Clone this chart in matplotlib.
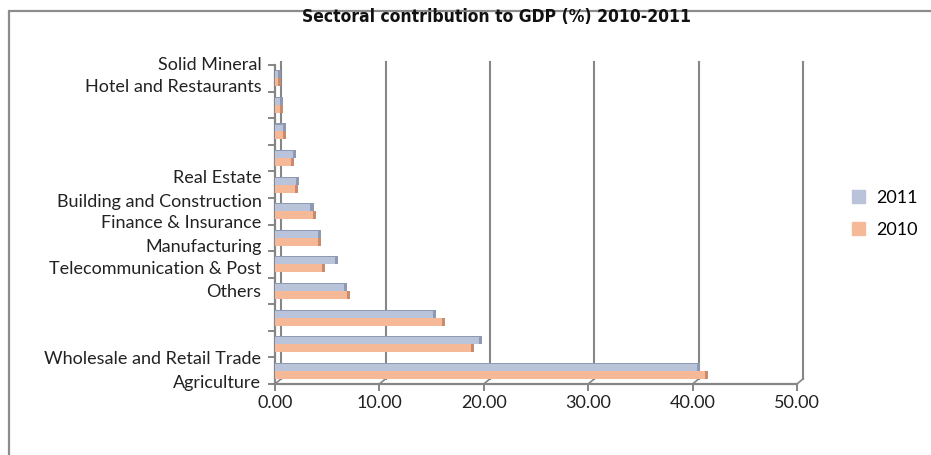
import numpy as np
import matplotlib.pyplot as plt
from matplotlib.patches import Rectangle, Patch

# Sector groups, bottom to top (Agriculture at the bottom)
groups = np.arange(12)
v2011 = [40.4, 19.5, 15.1, 6.6, 5.7, 4.1, 3.4, 2.0, 1.7, 0.8, 0.5, 0.3]
v2010 = [41.2, 18.8, 16.0, 6.9, 4.5, 4.1, 3.6, 1.9, 1.5, 0.8, 0.5, 0.3]

# Category labels as the chart shows them (some slots have no label)
labels = ["Agriculture", "Wholesale and Retail Trade", "Others",
          "Telecommunication & Post", "Manufacturing", "Finance & Insurance",
          "Building and Construction", "Real Estate", "Hotel and Restaurants",
          "Solid Mineral"]
label_pos = [-0.46, 0.44, 2.96, 3.83, 4.65, 5.56, 6.35, 7.25, 10.67, 11.5]

xticks = [0, 10, 20, 30, 40, 50]
series = ["2011", "2010"]

c2011, c2011_dark = "#b9c3da", "#8e99b3"
c2010, c2010_dark = "#f5b998", "#c98b6b"
axis_grey = "#868686"

plt.rcParams["font.family"] = ["Lato", "DejaVu Sans"]

fig = plt.figure(figsize=(9.31, 4.55), dpi=100)
ax = fig.add_axes([275 / 931, 1 - 384 / 455, 522 / 931, 319 / 455])

h = 0.3
depth = 0.3
# back wall gridlines with a little perspective offset
dx, dy = 0.6, 0.2
for t in xticks:
    ax.plot([t + dx, t + dx], [-0.5 + dy, 11.6], color=axis_grey, lw=1.5,
            zorder=1, clip_on=False)
    ax.plot([t, t + dx], [-0.5, -0.5 + dy], color=axis_grey, lw=1.2,
            zorder=1, clip_on=False)

# bars with a darker end face to mimic the 3D look
ax.barh(groups + 0.15, v2011, height=h, color=c2011, zorder=3)
ax.barh(groups + 0.15, depth, left=v2011, height=h, color=c2011_dark, zorder=3)
ax.barh(groups - 0.15, v2010, height=h, color=c2010, zorder=3)
ax.barh(groups - 0.15, depth, left=v2010, height=h, color=c2010_dark, zorder=3)
ax.barh(groups + 0.15 + h / 2 - 0.02, v2011, height=0.04, color=c2011_dark, zorder=4)

ax.set_xlim(0, 50)
ax.set_ylim(-0.5, 11.5)
ax.set_xticks(xticks)
ax.set_xticklabels([f"{t:.2f}" for t in xticks], fontsize=13, color="#222222")
ax.set_yticks(np.arange(-0.5, 12, 1))
ax.set_yticklabels([])
ax.tick_params(axis="both", color=axis_grey, width=1.4, length=5)
ax.tick_params(axis="x", pad=3)

for name, y in zip(labels, label_pos):
    ax.text(-1.3, y, name, ha="right", va="center", fontsize=13,
            color="#222222", clip_on=False)

for s in ["top", "right"]:
    ax.spines[s].set_visible(False)
for s in ["left", "bottom"]:
    ax.spines[s].set_color(axis_grey)
    ax.spines[s].set_linewidth(1.6)
ax.patch.set_alpha(0)

handles = [Patch(color=c2011), Patch(color=c2010)]
fig.legend(handles, series, loc="center left", bbox_to_anchor=(836 / 931, 1 - 214 / 455),
           frameon=False, fontsize=13, handlelength=0.7, handleheight=0.7,
           labelspacing=0.9, handletextpad=0.6)

fig.text(497 / 931, 1 - 17 / 455, "Sectoral contribution to GDP (%) 2010-2011",
         ha="center", va="center", fontsize=12.5, fontweight="bold",
         fontstretch="condensed", family=["DejaVu Sans"], color="#111111")

fig.patches.append(Rectangle((9 / 931, -0.2), 1.2, 1.2 - 11 / 455, transform=fig.transFigure,
                             fill=False, edgecolor="#8c8c8c", lw=1.6))

fig.savefig("out.png", dpi=100)
